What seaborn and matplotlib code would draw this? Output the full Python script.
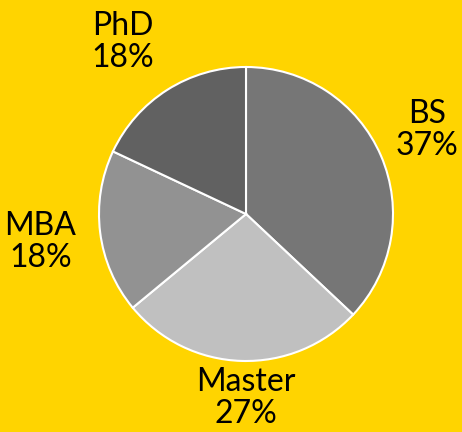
import numpy as np
import matplotlib
matplotlib.use("Agg")
import matplotlib.pyplot as plt
import seaborn as sns

# Degree shares
labels = ["BS", "Master", "MBA", "PhD"]
shares = [37, 27, 18, 18]
colors = ["#767676", "#C0C0C0", "#929292", "#616161"]

sns.set_style("white")
plt.rcParams["font.family"] = ["Lato", "DejaVu Sans"]

bg = "#FFD400"
fig = plt.figure(figsize=(4.62, 4.32), dpi=100, facecolor=bg)
ax = fig.add_axes([0, 0, 1, 1])
ax.set_facecolor(bg)

texts = [f"{l}\n{s}%" for l, s in zip(labels, shares)]
wedges, lbls = ax.pie(shares, labels=texts, colors=colors, startangle=90,
                      counterclock=False, labeldistance=1.35,
                      wedgeprops=dict(edgecolor="white", linewidth=1.5),
                      textprops=dict(fontsize=23, color="black",
                                     linespacing=1.08))

# nudge labels to match the reference layout
label_pos = {"BS": (1.23, 0.57), "Master": (0.0, -1.25),
             "MBA": (-1.40, -0.19), "PhD": (-0.84, 1.17)}
for t, l in zip(lbls, labels):
    t.set_position(label_pos[l])
    t.set_ha("center")
    t.set_va("center")

ax.set_aspect("auto")
ax.set_xlim(-246 / 147, (462 - 246) / 147)
ax.set_ylim(-(432 - 214) / 147, 214 / 147)
ax.axis("off")

fig.savefig("out.png", dpi=100, facecolor=bg)
